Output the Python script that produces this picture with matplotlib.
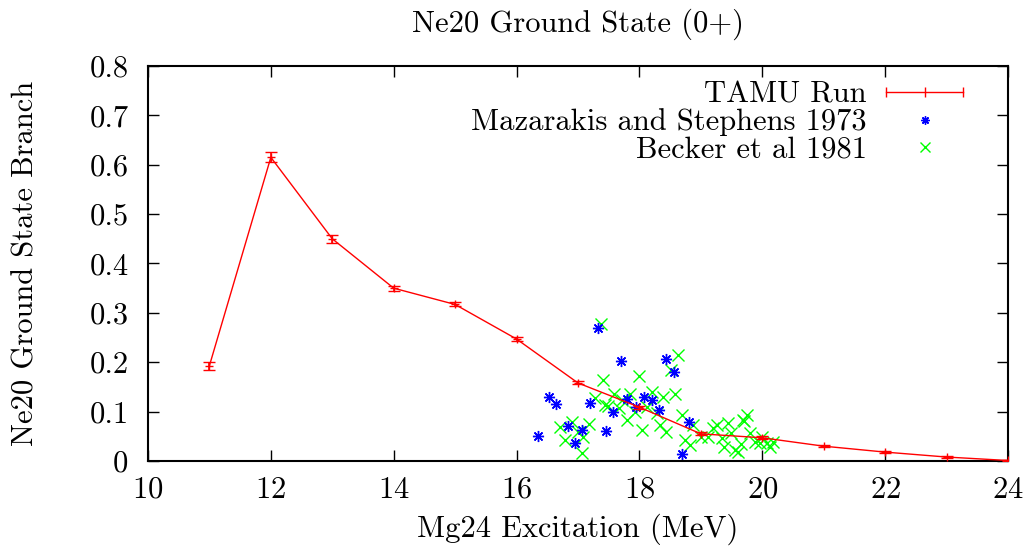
import numpy as np
import matplotlib as mpl
mpl.use('Agg')
import matplotlib.pyplot as plt
from matplotlib.lines import Line2D
from matplotlib.legend_handler import HandlerLine2D
from matplotlib.ticker import MultipleLocator, FormatStrFormatter

# TAMU run: branching ratio to the Ne20 ground state
tamu_E = [11, 12, 13, 14, 15, 16, 17, 18, 19, 20, 21, 22, 23, 24]
tamu_br = [0.193, 0.615, 0.450, 0.350, 0.317, 0.247, 0.158, 0.109,
           0.055, 0.047, 0.030, 0.018, 0.008, 0.001]
tamu_err = [0.008, 0.010, 0.008, 0.005, 0.004, 0.004, 0.003, 0.003,
            0.003, 0.003, 0.002, 0.002, 0.002, 0.002]

# Mazarakis and Stephens 1973
maz_E = [17.32, 17.70, 18.44, 18.56, 16.53, 16.65, 17.20, 17.57, 17.80, 17.94,
         18.07, 18.20, 18.32, 18.81, 16.35, 16.83, 17.07, 16.95, 17.45, 18.70]
maz_br = [0.269, 0.203, 0.206, 0.181, 0.130, 0.115, 0.117, 0.099, 0.125, 0.110,
          0.130, 0.124, 0.103, 0.078, 0.051, 0.071, 0.063, 0.037, 0.061, 0.014]

# Becker et al 1981
beck_E = [17.37, 18.63, 18.52, 18.00, 17.41, 18.58, 18.39, 18.20, 17.85, 17.58,
          17.28, 17.71, 17.44, 17.49, 17.66, 18.12, 17.93, 17.80, 18.28, 18.33,
          18.43, 18.04, 18.69, 16.90, 16.70, 17.18, 17.00, 17.08, 16.79, 17.06,
          18.74, 18.82, 18.88, 19.01, 19.12, 19.20, 19.26, 19.34, 19.37, 19.45,
          19.49, 19.56, 19.61, 19.65, 19.70, 19.75, 19.80, 19.88, 19.96, 20.08,
          19.69, 19.99, 20.13, 20.18]
beck_br = [0.277, 0.215, 0.184, 0.173, 0.164, 0.136, 0.129, 0.140, 0.136, 0.136,
           0.128, 0.124, 0.113, 0.111, 0.107, 0.110, 0.100, 0.084, 0.097, 0.073,
           0.058, 0.063, 0.093, 0.078, 0.068, 0.075, 0.059, 0.049, 0.043, 0.016,
           0.043, 0.032, 0.073, 0.049, 0.049, 0.066, 0.073, 0.046, 0.029, 0.076,
           0.057, 0.022, 0.018, 0.034, 0.080, 0.093, 0.056, 0.039, 0.036, 0.036,
           0.083, 0.049, 0.029, 0.039]

FS = 22
plt.rcParams['font.family'] = 'cmr10'
plt.rcParams['axes.formatter.use_mathtext'] = True
plt.rcParams['font.size'] = FS

fig = plt.figure(figsize=(10.32, 5.55), dpi=100)
ax = fig.add_axes([0.1434, 0.1694, 0.8333, 0.7117])

ax.errorbar(tamu_E, tamu_br, yerr=tamu_err, color='#ff0000', lw=1,
            marker='+', ms=6, mew=1, capsize=4, elinewidth=1.2, zorder=3)
# eight-armed asterisk, like gnuplot point type 3
ax.plot(maz_E, maz_br, ls='none', marker=(8, 2, 0), ms=8, mew=1,
        color='#0000ff', zorder=2)
ax.plot(beck_E, beck_br, ls='none', marker='x', ms=8, mew=1,
        color='#00ff00', zorder=1)

ax.set_xlim(10, 24)
ax.set_ylim(0, 0.8)
ax.xaxis.set_major_locator(MultipleLocator(2))
ax.yaxis.set_major_locator(MultipleLocator(0.1))
ax.yaxis.set_major_formatter(FormatStrFormatter('%g'))
ax.tick_params(direction='in', length=8, width=1, top=True, right=True,
               labelsize=FS, colors='k')
ax.tick_params(axis='y', pad=14)
ax.tick_params(axis='x', pad=11)
for s in ax.spines.values():
    s.set_linewidth(1.5)

ax.set_title('Ne20 Ground State (0+)', fontsize=FS, pad=25)
ax.set_xlabel('Mg24 Excitation (MeV)', fontsize=FS, labelpad=7)
ax.set_ylabel('Ne20 Ground State Branch', fontsize=FS, labelpad=36)

# gnuplot-style key: label on the left, sample on the right
h_tamu = Line2D([], [], color='#ff0000', lw=1, marker='|', ms=7, mew=1)
h_maz = Line2D([], [], ls='none', color='#0000ff', marker=(8, 2, 0), ms=6, mew=1)
h_beck = Line2D([], [], ls='none', color='#00ff00', marker='x', ms=7, mew=1)
ax.legend([h_tamu, h_maz, h_beck],
          ['TAMU Run', 'Mazarakis and Stephens 1973', 'Becker et al 1981'],
          handler_map={h_tamu: HandlerLine2D(numpoints=3),
                       h_maz: HandlerLine2D(numpoints=1),
                       h_beck: HandlerLine2D(numpoints=1)},
          loc='upper right', bbox_to_anchor=(972 / 1032, 1 - 81 / 555),
          bbox_transform=fig.transFigure, frameon=False, markerfirst=False,
          handlelength=3.1, handletextpad=0.34, labelspacing=0.0,
          borderpad=0, borderaxespad=0, fontsize=FS)

fig.savefig('out.png', dpi=100)
